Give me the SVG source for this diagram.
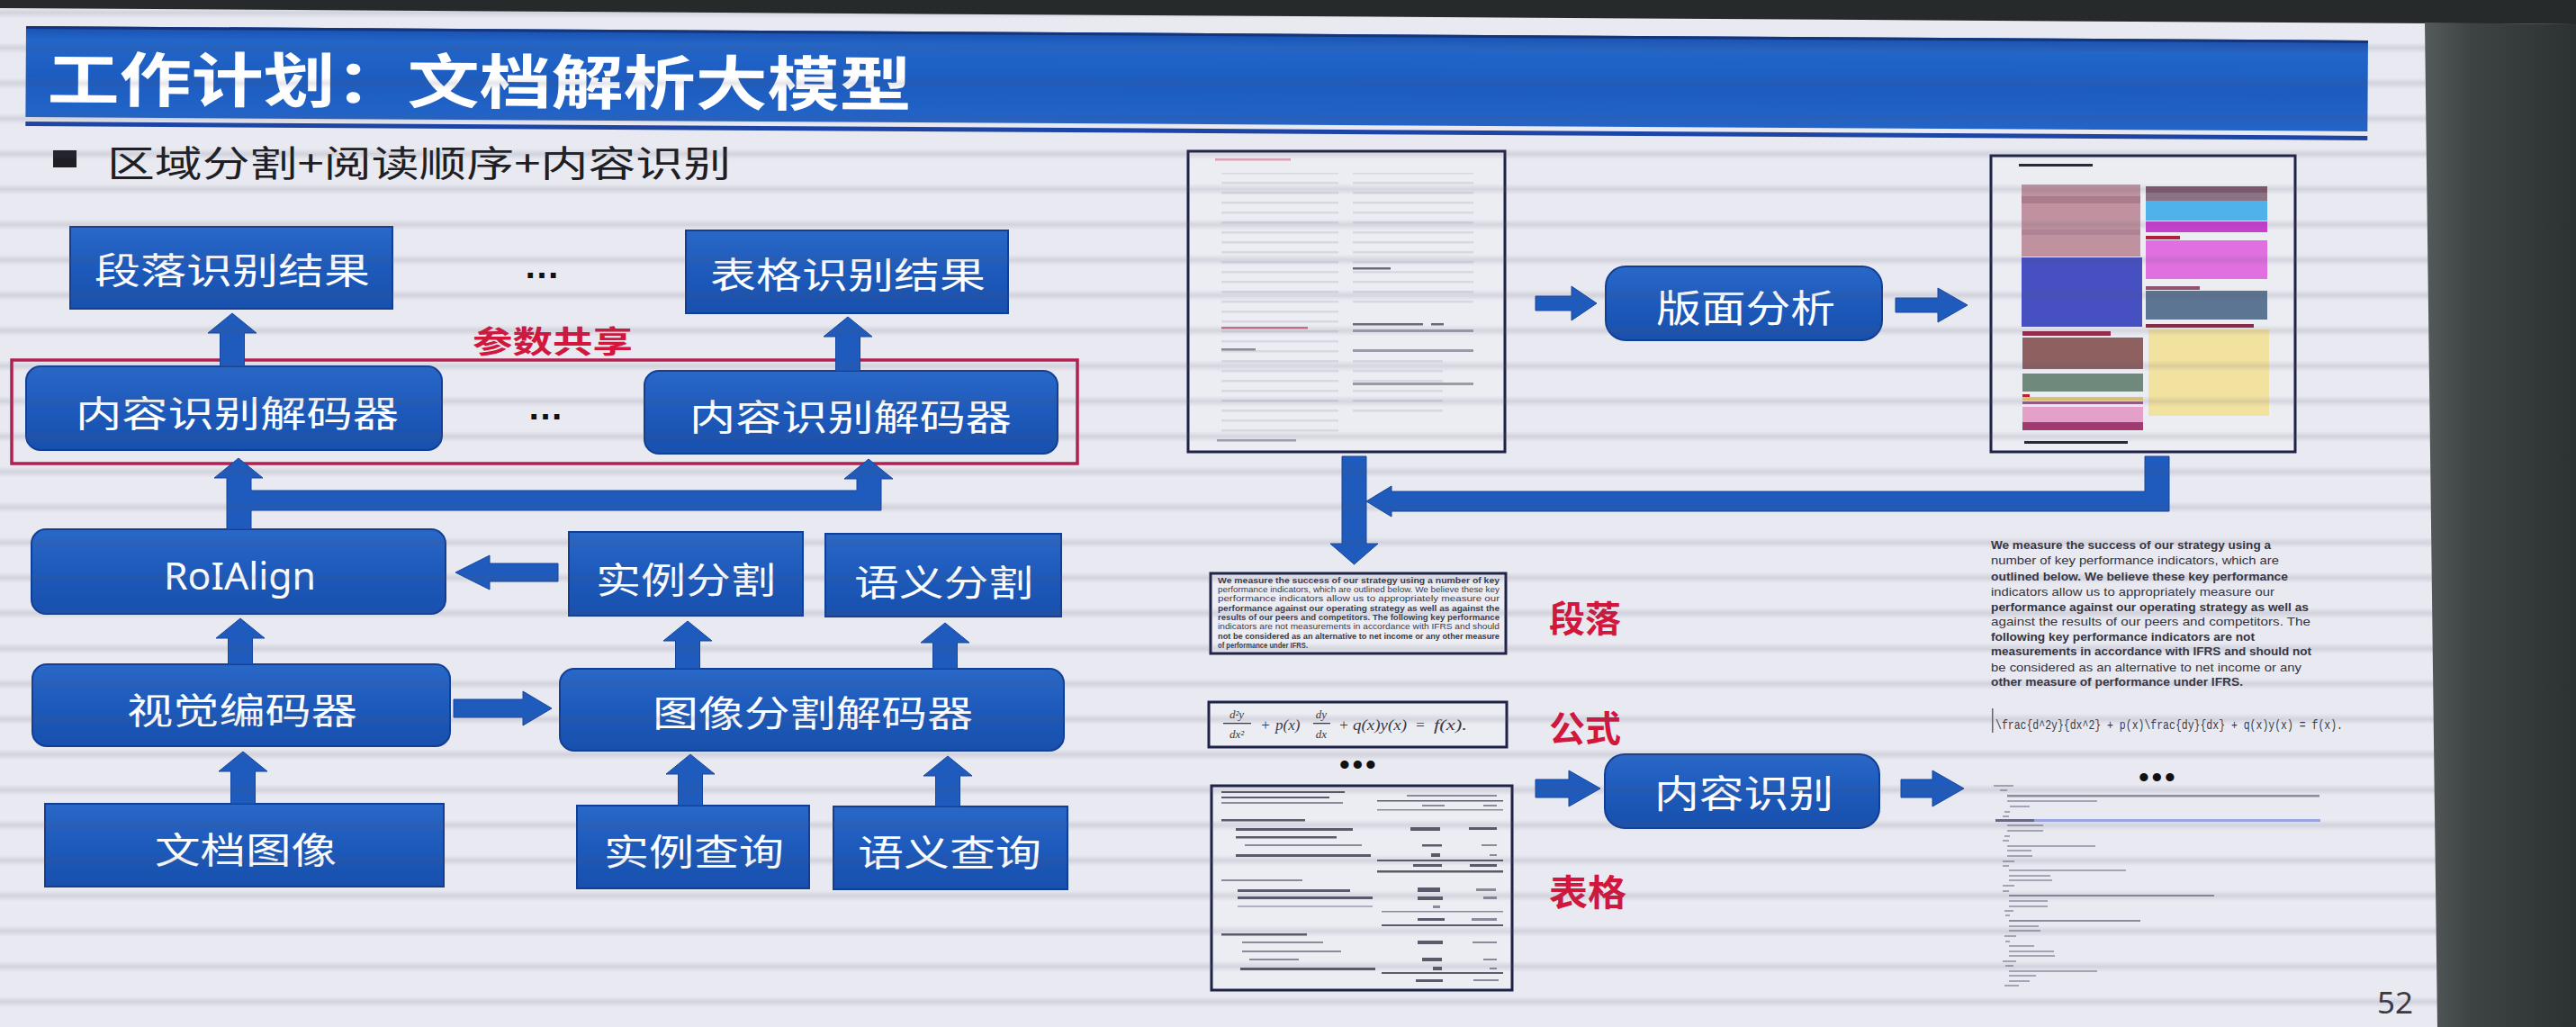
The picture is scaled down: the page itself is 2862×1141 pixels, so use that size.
<svg xmlns="http://www.w3.org/2000/svg" width="2862" height="1141" viewBox="0 0 2862 1141">
  <defs>
    <style>
      .bt{font-family:"Noto Sans CJK SC","Noto Sans",sans-serif;font-size:40px;fill:#ffffff;dominant-baseline:central;}
      .box{fill:url(#bx);stroke:#123f96;stroke-width:2;}
      .arr{fill:#1e5bbd;stroke:#16479e;stroke-width:1;}
      .red{font-family:"Noto Sans CJK SC",sans-serif;font-weight:700;fill:#d3163c;dominant-baseline:central;}
      .doc{fill:#ececf3;stroke:#1f2247;stroke-width:3;}
      .dark{fill:#5a5a6a;}
      .mid{fill:#8a8a9a;}
      .lite{fill:#b0b0bc;}
      .para{font-family:"Liberation Sans",Arial,sans-serif;font-size:9.5px;fill:#3a3a48;font-weight:700;}
      .out{font-family:"Liberation Sans",Arial,sans-serif;font-size:13.5px;fill:#34343e;}
      .fm{font-family:"Liberation Serif","Times New Roman",serif;font-style:italic;font-size:17px;fill:#3a3a46;}
      .code{fill:#a4a4b4;}
      .dots{font-family:"Liberation Sans",Arial,sans-serif;font-weight:700;fill:#111;}
    </style>
    <linearGradient id="bx" x1="0" y1="0" x2="0" y2="1">
      <stop offset="0" stop-color="#2a68c8"/>
      <stop offset="0.5" stop-color="#1d5abb"/>
      <stop offset="1" stop-color="#1850ad"/>
    </linearGradient>
    <linearGradient id="tb" x1="0" y1="0" x2="0" y2="1">
      <stop offset="0" stop-color="#1a4fae"/>
      <stop offset="0.15" stop-color="#2266c9"/>
      <stop offset="0.55" stop-color="#1c5cc0"/>
      <stop offset="1" stop-color="#2364c8"/>
    </linearGradient>
    <linearGradient id="edge" x1="0" y1="0" x2="1" y2="0">
      <stop offset="0" stop-color="#555b5b"/>
      <stop offset="0.3" stop-color="#3e4444"/>
      <stop offset="1" stop-color="#2c3131"/>
    </linearGradient>
    <linearGradient id="band" x1="0" y1="0" x2="0" y2="1">
      <stop offset="0" stop-color="#50506e" stop-opacity="0"/>
      <stop offset="0.34" stop-color="#50506e" stop-opacity="0"/>
      <stop offset="0.5" stop-color="#50506e" stop-opacity="0.15"/>
      <stop offset="0.66" stop-color="#50506e" stop-opacity="0"/>
      <stop offset="1" stop-color="#50506e" stop-opacity="0"/>
    </linearGradient>
    <pattern id="scan" patternUnits="userSpaceOnUse" x="0" y="-5.6" width="200" height="39.25">
      <rect width="200" height="39.25" fill="url(#band)"/>
    </pattern>
    <pattern id="txt" patternUnits="userSpaceOnUse" x="0" y="0" width="200" height="11">
      <rect y="4" width="200" height="2.5" fill="#d8d8e2"/>
    </pattern>
  </defs>

  <!-- slide background -->
  <rect width="2862" height="1141" fill="#e9e9f1"/>

  <!-- title bar -->
  <g id="title" transform="rotate(0.35 29 29)">
    <rect x="29" y="29" width="2602" height="101" fill="url(#tb)"/>
    <rect x="29" y="29" width="2602" height="3" fill="#14357a"/>
    <rect x="29" y="135" width="2602" height="5" fill="#1d45a6"/>
    <text x="53" y="83" textLength="960" lengthAdjust="spacingAndGlyphs" style="font-family:'Noto Sans CJK SC',sans-serif;font-weight:700;font-size:66px;fill:#ffffff;dominant-baseline:central;">工作计划：文档解析大模型</text>
  </g>

  <!-- bullet line -->
  <g id="subtitle">
    <rect x="59" y="167" width="26" height="19" fill="#1e1e24"/>
    <text x="119" y="179" textLength="693" lengthAdjust="spacingAndGlyphs" style="font-family:'Noto Sans CJK SC',sans-serif;font-size:40px;fill:#1e1e24;dominant-baseline:central;">区域分割+阅读顺序+内容识别</text>
  </g>

  <!-- left model diagram: nodes -->
  <g id="para-result">
    <rect class="box" x="78" y="252" width="358" height="91"/>
    <text class="bt" x="105" y="298" textLength="306" lengthAdjust="spacingAndGlyphs">段落识别结果</text>
  </g>
  <g id="table-result">
    <rect class="box" x="762" y="256" width="358" height="92"/>
    <text class="bt" x="789" y="303" textLength="306" lengthAdjust="spacingAndGlyphs">表格识别结果</text>
  </g>
  <text class="dots" x="602" y="309" text-anchor="middle" style="font-size:40px;">…</text>

  <g id="param-share">
    <rect x="13" y="400" width="1184" height="115" fill="none" stroke="#b3204f" stroke-width="3.5"/>
    <text class="red" x="525" y="377" textLength="178" lengthAdjust="spacingAndGlyphs" style="font-size:34px;">参数共享</text>
  </g>
  <g id="decoder-a">
    <rect class="box" x="29" y="407" width="462" height="93" rx="16"/>
    <text class="bt" x="84" y="457" textLength="359" lengthAdjust="spacingAndGlyphs">内容识别解码器</text>
  </g>
  <g id="decoder-b">
    <rect class="box" x="716" y="412" width="459" height="92" rx="16"/>
    <text class="bt" x="766" y="461" textLength="358" lengthAdjust="spacingAndGlyphs">内容识别解码器</text>
  </g>
  <text class="dots" x="606" y="466" text-anchor="middle" style="font-size:40px;">…</text>

  <g id="roialign">
    <rect class="box" x="35" y="588" width="460" height="94" rx="16"/>
    <text x="182" y="655" textLength="169" lengthAdjust="spacingAndGlyphs" style="font-family:'Noto Sans',sans-serif;font-size:42px;fill:#ffffff;">RoIAlign</text>
  </g>
  <g id="instance-seg">
    <rect class="box" x="632" y="591" width="260" height="93"/>
    <text class="bt" x="662" y="642" textLength="200" lengthAdjust="spacingAndGlyphs">实例分割</text>
  </g>
  <g id="semantic-seg">
    <rect class="box" x="917" y="593" width="262" height="92"/>
    <text class="bt" x="949" y="645" textLength="199" lengthAdjust="spacingAndGlyphs">语义分割</text>
  </g>
  <g id="visual-encoder">
    <rect class="box" x="36" y="738" width="464" height="91" rx="16"/>
    <text class="bt" x="141" y="787" textLength="256" lengthAdjust="spacingAndGlyphs">视觉编码器</text>
  </g>
  <g id="seg-decoder">
    <rect class="box" x="622" y="743" width="560" height="91" rx="16"/>
    <text class="bt" x="725" y="790" textLength="356" lengthAdjust="spacingAndGlyphs">图像分割解码器</text>
  </g>
  <g id="doc-image">
    <rect class="box" x="50" y="893" width="443" height="92"/>
    <text class="bt" x="172" y="942" textLength="202" lengthAdjust="spacingAndGlyphs">文档图像</text>
  </g>
  <g id="instance-query">
    <rect class="box" x="641" y="895" width="258" height="92"/>
    <text class="bt" x="671" y="944" textLength="200" lengthAdjust="spacingAndGlyphs">实例查询</text>
  </g>
  <g id="semantic-query">
    <rect class="box" x="926" y="896" width="260" height="92"/>
    <text class="bt" x="953" y="945" textLength="204" lengthAdjust="spacingAndGlyphs">语义查询</text>
  </g>

  <!-- right pipeline: source page -->
  <g id="source-page">
    <rect class="doc" x="1320" y="168" width="352" height="334"/>
    <rect x="1357" y="192" width="130" height="290" fill="url(#txt)"/>
    <rect x="1503" y="192" width="134" height="150" fill="url(#txt)"/>
    <rect x="1350" y="176" width="84" height="2.5" fill="#dca0b4"/>
    <rect x="1357" y="363" width="96" height="2.5" fill="#cc7088"/>
    <rect x="1503" y="297" width="42" height="2.5" fill="#6a6a7e"/>
    <rect x="1503" y="359" width="78" height="2.5" fill="#6a6a7e"/>
    <rect x="1590" y="359" width="14" height="2.5" fill="#6a6a7e"/>
    <rect x="1503" y="366" width="134" height="3" fill="#a0a0ae"/>
    <rect x="1357" y="387" width="38" height="2.5" fill="#8a8a9a"/>
    <rect x="1503" y="388" width="134" height="3" fill="#9a9aa8"/>
    <rect x="1503" y="398" width="100" height="60" fill="url(#txt)"/>
    <rect x="1503" y="425" width="134" height="3" fill="#9a9aa8"/>
    <rect x="1352" y="488" width="88" height="2.5" fill="#a0a0ae"/>
  </g>

  <g id="layout-analysis">
    <rect class="box" x="1784" y="296" width="307" height="82" rx="22"/>
    <text class="bt" x="1840" y="339" textLength="199" lengthAdjust="spacingAndGlyphs" style="font-size:42px;">版面分析</text>
  </g>

  <!-- right pipeline: page with detected regions -->
  <g id="layout-page">
    <rect class="doc" x="2212" y="173" width="338" height="329"/>
    <rect x="2243" y="182" width="82" height="3" fill="#2a2a36"/>
    <rect x="2246" y="205" width="132" height="80" fill="#c0929f"/>
    <rect x="2246" y="218" width="132" height="8" fill="#a97b8b"/>
    <rect x="2246" y="255" width="132" height="6" fill="#b08494"/>
    <rect x="2246" y="286" width="134" height="77" fill="#4650c0"/>
    <rect x="2247" y="368" width="98" height="5" fill="#9a2848"/>
    <rect x="2247" y="375" width="134" height="35" fill="#8e6060"/>
    <rect x="2247" y="415" width="134" height="20" fill="#6f8a7c"/>
    <rect x="2247" y="438" width="8" height="6" fill="#c02030"/>
    <rect x="2247" y="441" width="134" height="4" fill="#e0cc70"/>
    <rect x="2247" y="446" width="134" height="3" fill="#9a5a8a"/>
    <rect x="2247" y="452" width="134" height="17" fill="#e4a0c8"/>
    <rect x="2247" y="469" width="134" height="9" fill="#a03a70"/>
    <rect x="2249" y="490" width="115" height="3" fill="#2a2a36"/>
    <rect x="2384" y="207" width="135" height="7" fill="#80586a"/>
    <rect x="2384" y="214" width="135" height="9" fill="#8c7384"/>
    <rect x="2384" y="223" width="135" height="22" fill="#4fb2ea"/>
    <rect x="2384" y="246" width="135" height="12" fill="#c83fcf"/>
    <rect x="2384" y="262" width="38" height="4" fill="#b02040"/>
    <rect x="2384" y="267" width="135" height="43" fill="#e070e0"/>
    <rect x="2384" y="318" width="60" height="4" fill="#905070"/>
    <rect x="2384" y="323" width="135" height="32" fill="#5c7592"/>
    <rect x="2384" y="360" width="120" height="4" fill="#8a2a48"/>
    <rect x="2387" y="366" width="134" height="96" fill="#f2e2a0"/>
  </g>

  <!-- extracted region crops -->
  <g id="para-crop">
    <rect class="doc" x="1345" y="637" width="328" height="89"/>
    <text class="para" x="1353" y="648" textLength="313" lengthAdjust="spacingAndGlyphs">We measure the success of our strategy using a number of key</text>
    <text class="para" x="1353" y="658" textLength="313" lengthAdjust="spacingAndGlyphs" style="font-weight:400">performance indicators, which are outlined below. We believe these key</text>
    <text class="para" x="1353" y="668" textLength="313" lengthAdjust="spacingAndGlyphs" style="font-weight:400">performance indicators allow us to appropriately measure our</text>
    <text class="para" x="1353" y="679" textLength="313" lengthAdjust="spacingAndGlyphs">performance against our operating strategy as well as against the</text>
    <text class="para" x="1353" y="689" textLength="313" lengthAdjust="spacingAndGlyphs">results of our peers and competitors. The following key performance</text>
    <text class="para" x="1353" y="699" textLength="313" lengthAdjust="spacingAndGlyphs" style="font-weight:400">indicators are not measurements in accordance with IFRS and should</text>
    <text class="para" x="1353" y="710" textLength="313" lengthAdjust="spacingAndGlyphs">not be considered as an alternative to net income or any other measure</text>
    <text class="para" x="1353" y="720" textLength="100" lengthAdjust="spacingAndGlyphs">of performance under IFRS.</text>
  </g>
  <text class="red" x="1721" y="685" textLength="80" lengthAdjust="spacingAndGlyphs" style="font-size:40px;">段落</text>

  <g id="formula-crop">
    <rect class="doc" x="1343" y="780" width="331" height="50"/>
    <text class="fm" x="1374" y="798" text-anchor="middle" style="font-size:13px">d²y</text>
    <rect x="1359" y="803" width="31" height="1.3" fill="#3a3a46"/>
    <text class="fm" x="1374" y="820" text-anchor="middle" style="font-size:13px">dx²</text>
    <text class="fm" x="1406" y="811" text-anchor="middle" style="font-style:normal">+</text>
    <text class="fm" x="1417" y="811">p(x)</text>
    <text class="fm" x="1468" y="798" text-anchor="middle" style="font-size:13px">dy</text>
    <rect x="1459" y="803" width="19" height="1.3" fill="#3a3a46"/>
    <text class="fm" x="1468" y="820" text-anchor="middle" style="font-size:13px">dx</text>
    <text class="fm" x="1493" y="811" text-anchor="middle" style="font-style:normal">+</text>
    <text class="fm" x="1503" y="811" textLength="60" lengthAdjust="spacingAndGlyphs">q(x)y(x)</text>
    <text class="fm" x="1578" y="811" text-anchor="middle" style="font-style:normal">=</text>
    <text class="fm" x="1593" y="811" textLength="37" lengthAdjust="spacingAndGlyphs">f(x).</text>
  </g>
  <text class="red" x="1721" y="807" textLength="80" lengthAdjust="spacingAndGlyphs" style="font-size:40px;">公式</text>
  <text class="dots" x="1510" y="860" text-anchor="middle" style="font-size:32px;letter-spacing:3.3px;">•••</text>

  <g id="table-crop">
    <rect class="doc" x="1346" y="873" width="334" height="227"/>
    <rect class="dark" x="1357" y="879" width="137" height="2"/>
    <rect class="dark" x="1357" y="885" width="120" height="2"/>
    <rect class="mid" x="1357" y="891" width="135" height="2"/>
    <rect class="mid" x="1563" y="883" width="100" height="2"/>
    <rect class="dark" x="1530" y="889" width="140" height="1.5"/>
    <rect class="mid" x="1580" y="894" width="25" height="2"/>
    <rect class="mid" x="1648" y="894" width="15" height="2"/>
    <rect class="mid" x="1530" y="899" width="140" height="1.5"/>
    <rect class="dark" x="1357" y="910" width="93" height="2.5"/>
    <rect class="dark" x="1373" y="920" width="130" height="3"/>
    <rect class="dark" x="1567" y="919" width="33" height="4"/>
    <rect class="dark" x="1632" y="919" width="31" height="3"/>
    <rect class="dark" x="1373" y="929" width="112" height="2.5"/>
    <rect class="mid" x="1383" y="938" width="130" height="2"/>
    <rect class="dark" x="1580" y="938" width="22" height="2.5"/>
    <rect class="mid" x="1646" y="938" width="17" height="2"/>
    <rect class="dark" x="1373" y="949" width="150" height="3"/>
    <rect class="dark" x="1590" y="948" width="10" height="4"/>
    <rect class="mid" x="1655" y="949" width="8" height="2"/>
    <rect class="dark" x="1530" y="955" width="140" height="2"/>
    <rect class="dark" x="1570" y="960" width="32" height="3"/>
    <rect class="dark" x="1633" y="960" width="30" height="3"/>
    <rect class="dark" x="1530" y="967" width="140" height="2.5"/>
    <rect class="mid" x="1357" y="977" width="90" height="2"/>
    <rect class="dark" x="1375" y="988" width="125" height="3"/>
    <rect class="dark" x="1575" y="986" width="25" height="5"/>
    <rect class="mid" x="1640" y="987" width="22" height="3"/>
    <rect class="dark" x="1375" y="996" width="150" height="3"/>
    <rect class="dark" x="1575" y="996" width="28" height="4"/>
    <rect class="mid" x="1648" y="996" width="15" height="3"/>
    <rect class="lite" x="1375" y="1006" width="150" height="2"/>
    <rect class="mid" x="1592" y="1006" width="8" height="3"/>
    <rect class="mid" x="1535" y="1012" width="135" height="1.5"/>
    <rect class="dark" x="1575" y="1020" width="30" height="3"/>
    <rect class="mid" x="1635" y="1020" width="28" height="3"/>
    <rect class="dark" x="1535" y="1027" width="135" height="2"/>
    <rect class="dark" x="1357" y="1037" width="95" height="2.5"/>
    <rect class="mid" x="1380" y="1046" width="90" height="2"/>
    <rect class="dark" x="1575" y="1045" width="28" height="4"/>
    <rect class="mid" x="1636" y="1046" width="27" height="2"/>
    <rect class="mid" x="1380" y="1056" width="110" height="2"/>
    <rect class="mid" x="1388" y="1065" width="55" height="2"/>
    <rect class="dark" x="1580" y="1064" width="22" height="4"/>
    <rect class="mid" x="1648" y="1065" width="15" height="2"/>
    <rect class="dark" x="1378" y="1075" width="150" height="3"/>
    <rect class="dark" x="1592" y="1074" width="10" height="4"/>
    <rect class="mid" x="1655" y="1075" width="8" height="2"/>
    <rect class="dark" x="1535" y="1080" width="135" height="2"/>
    <rect class="dark" x="1573" y="1088" width="30" height="3"/>
    <rect class="mid" x="1637" y="1088" width="28" height="2"/>
  </g>
  <text class="red" x="1721" y="989" textLength="86" lengthAdjust="spacingAndGlyphs" style="font-size:40px;">表格</text>

  <g id="content-recognition">
    <rect class="box" x="1783" y="838" width="305" height="82" rx="22"/>
    <text class="bt" x="1838" y="878" textLength="199" lengthAdjust="spacingAndGlyphs" style="font-size:42px;">内容识别</text>
  </g>

  <!-- recognised output -->
  <g id="output-text">
    <text class="out" x="2212" y="610" textLength="311" lengthAdjust="spacingAndGlyphs" style="font-weight:700">We measure the success of our strategy using a</text>
    <text class="out" x="2212" y="627" textLength="320" lengthAdjust="spacingAndGlyphs">number of key performance indicators, which are</text>
    <text class="out" x="2212" y="645" textLength="330" lengthAdjust="spacingAndGlyphs" style="font-weight:700">outlined below. We believe these key performance</text>
    <text class="out" x="2212" y="662" textLength="315" lengthAdjust="spacingAndGlyphs">indicators allow us to appropriately measure our</text>
    <text class="out" x="2212" y="679" textLength="353" lengthAdjust="spacingAndGlyphs" style="font-weight:700">performance against our operating strategy as well as</text>
    <text class="out" x="2212" y="695" textLength="355" lengthAdjust="spacingAndGlyphs">against the results of our peers and competitors. The</text>
    <text class="out" x="2212" y="712" textLength="293" lengthAdjust="spacingAndGlyphs" style="font-weight:700">following key performance indicators are not</text>
    <text class="out" x="2212" y="728" textLength="356" lengthAdjust="spacingAndGlyphs" style="font-weight:700">measurements in accordance with IFRS and should not</text>
    <text class="out" x="2212" y="746" textLength="345" lengthAdjust="spacingAndGlyphs">be considered as an alternative to net income or any</text>
    <text class="out" x="2212" y="762" textLength="280" lengthAdjust="spacingAndGlyphs" style="font-weight:700">other measure of performance under IFRS.</text>
  </g>
  <g id="output-formula">
    <rect x="2213" y="787" width="1.5" height="27" fill="#666"/>
    <text x="2217" y="810" textLength="386" lengthAdjust="spacingAndGlyphs" style="font-family:'Liberation Mono','Courier New',monospace;font-size:15px;fill:#3a3a46;">\frac{d^2y}{dx^2} + p(x)\frac{dy}{dx} + q(x)y(x) = f(x).</text>
  </g>
  <text class="dots" x="2398" y="874" text-anchor="middle" style="font-size:32px;letter-spacing:3.3px;">•••</text>
  <g id="output-table">
    <rect x="2217" y="910" width="361" height="3" fill="#9aa6e6"/>
    <rect class="code" x="2215" y="872" width="22" height="2"/>
    <rect class="code" x="2222" y="877" width="8" height="2"/>
    <rect x="2230" y="883" width="347" height="2.5" fill="#8c8c9c"/>
    <rect class="code" x="2230" y="889" width="100" height="2"/>
    <rect class="code" x="2233" y="895" width="22" height="2"/>
    <rect class="code" x="2227" y="901" width="6" height="2"/>
    <rect class="code" x="2225" y="906" width="7" height="2"/>
    <rect x="2217" y="910" width="43" height="3" fill="#6a6a86"/>
    <rect class="code" x="2230" y="916" width="40" height="2"/>
    <rect class="code" x="2230" y="922" width="40" height="2"/>
    <rect class="code" x="2227" y="928" width="6" height="2"/>
    <rect class="code" x="2225" y="933" width="7" height="2"/>
    <rect class="code" x="2230" y="939" width="98" height="2"/>
    <rect class="code" x="2230" y="944" width="27" height="2"/>
    <rect class="code" x="2230" y="950" width="28" height="2"/>
    <rect class="code" x="2225" y="956" width="13" height="2"/>
    <rect class="code" x="2225" y="961" width="7" height="2"/>
    <rect class="code" x="2232" y="966" width="130" height="2"/>
    <rect class="code" x="2232" y="972" width="46" height="2"/>
    <rect class="code" x="2232" y="977" width="48" height="2"/>
    <rect class="code" x="2225" y="983" width="13" height="2"/>
    <rect class="code" x="2225" y="989" width="7" height="2"/>
    <rect x="2232" y="994" width="228" height="2" fill="#8c8c9c"/>
    <rect class="code" x="2232" y="1000" width="43" height="2"/>
    <rect class="code" x="2232" y="1006" width="43" height="2"/>
    <rect class="code" x="2227" y="1011" width="10" height="2"/>
    <rect class="code" x="2228" y="1016" width="5" height="2"/>
    <rect x="2232" y="1022" width="146" height="2" fill="#8c8c9c"/>
    <rect class="code" x="2232" y="1028" width="33" height="2"/>
    <rect class="code" x="2232" y="1033" width="35" height="2"/>
    <rect class="code" x="2227" y="1039" width="13" height="2"/>
    <rect class="code" x="2228" y="1045" width="5" height="2"/>
    <rect class="code" x="2232" y="1050" width="28" height="2"/>
    <rect class="code" x="2232" y="1056" width="50" height="2"/>
    <rect class="code" x="2232" y="1061" width="51" height="2"/>
    <rect class="code" x="2225" y="1067" width="15" height="2"/>
    <rect class="code" x="2228" y="1072" width="9" height="2"/>
    <rect class="code" x="2232" y="1078" width="98" height="2"/>
    <rect class="code" x="2232" y="1083" width="30" height="2"/>
    <rect class="code" x="2232" y="1089" width="23" height="2"/>
    <rect class="code" x="2227" y="1094" width="16" height="2"/>
  </g>

  <!-- connectors: block arrows -->
  <g id="connectors">
    <polygon class="arr" points="244.5,407 244.5,370 231,370 258,348 285,370 271.5,370 271.5,407"/>
    <polygon class="arr" points="928.5,412 928.5,374 915,374 942,352 969,374 955.5,374 955.5,412"/>
    <polygon class="arr" points="252,588 252,531 238,531 265,509 292,531 279,531 279,545 952,545 952,532 938,532 965,510 992,532 979,532 979,567 279,567 279,588"/>
    <polygon class="arr" points="620,626 544,626 544,617 506,636 544,655 544,646 620,646"/>
    <polygon class="arr" points="253.5,738 253.5,709 240,709 267,687 294,709 280.5,709 280.5,738"/>
    <polygon class="arr" points="750.5,743 750.5,712 737,712 764,690 791,712 777.5,712 777.5,743"/>
    <polygon class="arr" points="1036.5,743 1036.5,714 1023,714 1050,692 1077,714 1063.5,714 1063.5,743"/>
    <polygon class="arr" points="504,777 581,777 581,768 613,787 581,806 581,797 504,797"/>
    <polygon class="arr" points="256.5,893 256.5,857 243,857 270,835 297,857 283.5,857 283.5,893"/>
    <polygon class="arr" points="753.5,895 753.5,860 740,860 767,838 794,860 780.5,860 780.5,895"/>
    <polygon class="arr" points="1039.5,896 1039.5,862 1026,862 1053,840 1080,862 1066.5,862 1066.5,896"/>
    <polygon class="arr" points="1706,329 1746,329 1746,318 1774,337 1746,356 1746,345 1706,345"/>
    <polygon class="arr" points="2106,331 2153,331 2153,320 2186,339 2153,358 2153,347 2106,347"/>
    <polygon class="arr" points="2383,507 2410,507 2410,568 1546,568 1546,574 1518,557 1546,540 1546,546 2383,546"/>
    <polygon class="arr" points="1491,507 1518,507 1518,604 1531,604 1504.5,627 1478,604 1491,604"/>
    <polygon class="arr" points="1706,866 1743,866 1743,856 1778,876 1743,896 1743,886 1706,886"/>
    <polygon class="arr" points="2112,866 2147,866 2147,856 2182,876 2147,896 2147,886 2112,886"/>
  </g>

  <!-- page number -->
  <text x="2641" y="1126" textLength="40" lengthAdjust="spacingAndGlyphs" style="font-family:'Noto Sans',sans-serif;font-size:32px;fill:#3a3a42;">52</text>

  <!-- horizontal banding across the screen -->
  <rect width="2862" height="1141" fill="url(#scan)"/>

  <!-- surroundings of the screen -->
  <polygon points="0,0 2862,0 2862,27 0,9" fill="#262a2a"/>
  <polygon points="2694,25 2862,27 2862,1141 2708,1141" fill="url(#edge)"/>
</svg>
